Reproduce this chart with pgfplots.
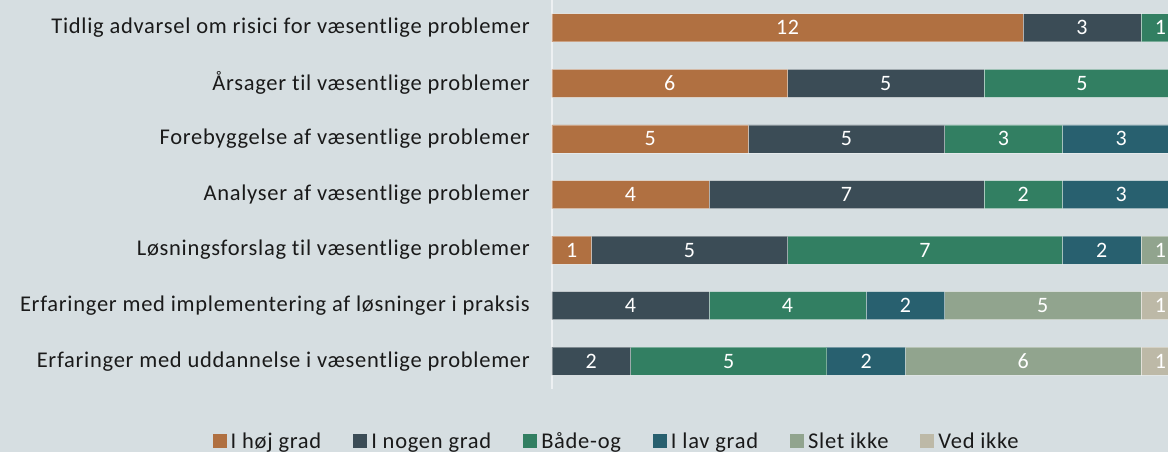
\documentclass[border=0pt]{standalone}
\usepackage{fontspec}
\setmainfont{Carlito}[LetterSpace=3.2, Ligatures={NoCommon}]
\usepackage{pgfplots}
\pgfplotsset{compat=1.18}
\definecolor{bgcol}{HTML}{D6DEE1}
\definecolor{cA}{HTML}{B07041}
\definecolor{cB}{HTML}{3B4C56}
\definecolor{cC}{HTML}{327F62}
\definecolor{cD}{HTML}{28606F}
\definecolor{cE}{HTML}{91A48E}
\definecolor{cF}{HTML}{BDB9A7}
\definecolor{txt}{HTML}{1A1A1A}
\begin{document}
\begin{tikzpicture}[x=1pt,y=1pt]
\useasboundingbox (0,0) rectangle (1168,452);
\fill[bgcol] (0,0) rectangle (1168,452);
\pgfplotsset{
  common/.style={
    at={(552pt,63pt)}, anchor=south west,
    scale only axis, width=616pt, height=389pt,
    xmin=0, xmax=15.69, ymin=-0.5, ymax=6.5, y dir=reverse,
  }
}
\begin{axis}[common,
  xbar stacked, bar width=28pt,
  axis x line=none,
  axis y line*=left,
  axis line style={draw=white!55!bgcol, line width=1.2pt},
  ytick={0,1,2,3,4,5,6},
  major tick length=0pt,
  yticklabels={Tidlig advarsel om risici for væsentlige problemer,
    Årsager til væsentlige problemer,
    Forebyggelse af væsentlige problemer,
    Analyser af væsentlige problemer,
    Løsningsforslag til væsentlige problemer,
    Erfaringer med implementering af løsninger i praksis,
    Erfaringer med uddannelse i væsentlige problemer},
  yticklabel style={font=\fontsize{22.5}{26}\selectfont, text=txt, anchor=east, inner sep=0pt, xshift=-22pt},
  every axis plot/.append style={draw=white, draw opacity=0.35, line width=0.7pt},
  legend columns=6,
  legend style={at={(0.105,-0.134)}, anchor=center, draw=none, fill=none,
    font=\fontsize{22.5}{26}\selectfont, text=txt,
    /tikz/every odd column/.append style={column sep=2pt},
    /tikz/every even column/.append style={column sep=30pt}},
  legend image code/.code={\fill[#1,draw=none] (0pt,-7pt) rectangle (14pt,7pt);},
]
\addplot[fill=cA] coordinates {(12,0) (6,1) (5,2) (4,3) (1,4) (0,5) (0,6)};
\addplot[fill=cB] coordinates {(3,0) (5,1) (5,2) (7,3) (5,4) (4,5) (2,6)};
\addplot[fill=cC] coordinates {(1,0) (5,1) (3,2) (2,3) (7,4) (4,5) (5,6)};
\addplot[fill=cD] coordinates {(0,0) (0,1) (3,2) (3,3) (2,4) (2,5) (2,6)};
\addplot[fill=cE] coordinates {(0,0) (0,1) (0,2) (0,3) (1,4) (5,5) (6,6)};
\addplot[fill=cF] coordinates {(0,0) (0,1) (0,2) (0,3) (0,4) (1,5) (1,6)};
\legend{I høj grad, I nogen grad, Både-og, I lav grad, Slet ikke, Ved ikke}
\end{axis}
\begin{axis}[common, hide axis, clip=false]
\addplot[draw=none, mark=none, nodes near coords, point meta=explicit symbolic,
  nodes near coords align={center},
  every node near coord/.append style={text=white, font=\fontsize{22}{26}\selectfont, anchor=center}]
  coordinates {
  (6,0) [12] (13.5,0) [3] (15.5,0) [1]
  (3,1) [6] (8.5,1) [5] (13.5,1) [5]
  (2.5,2) [5] (7.5,2) [5] (11.5,2) [3] (14.5,2) [3]
  (2,3) [4] (7.5,3) [7] (12,3) [2] (14.5,3) [3]
  (0.5,4) [1] (3.5,4) [5] (9.5,4) [7] (14,4) [2] (15.5,4) [1]
  (2,5) [4] (6,5) [4] (9,5) [2] (12.5,5) [5] (15.5,5) [1]
  (1,6) [2] (4.5,6) [5] (8,6) [2] (12,6) [6] (15.5,6) [1]
  };
\end{axis}
\end{tikzpicture}
\end{document}
